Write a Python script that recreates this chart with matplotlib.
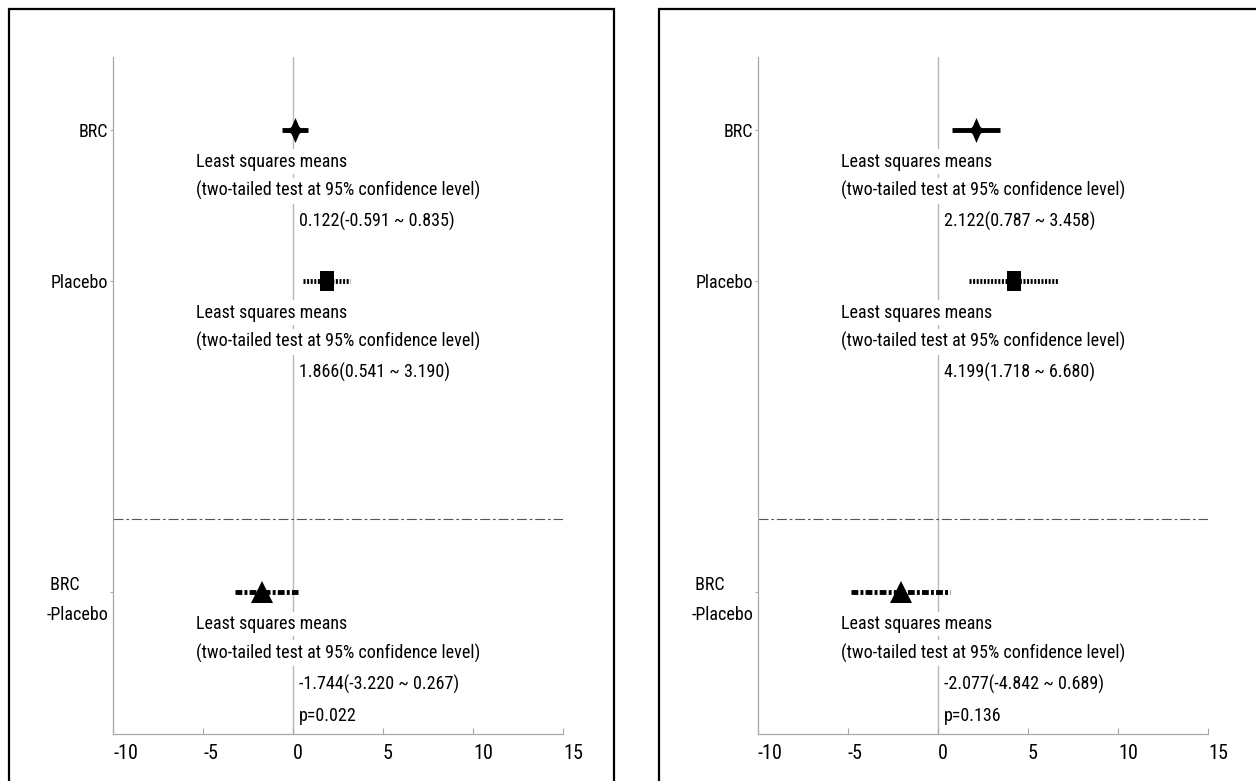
import matplotlib
matplotlib.use("Agg")
import matplotlib.pyplot as plt
from matplotlib import font_manager
from matplotlib.patches import Rectangle
from matplotlib.path import Path
from matplotlib.transforms import ScaledTranslation

# ---------------- data ----------------
groups = ["BRC", "Placebo", " BRC\n-Placebo"]

left_est = [0.122, 1.866, -1.744]
left_lo = [-0.591, 0.541, -3.220]
left_hi = [0.835, 3.190, 0.267]
left_p = "0.022"

right_est = [2.122, 4.199, -2.077]
right_lo = [0.787, 1.718, -4.842]
right_hi = [3.458, 6.680, 0.689]
right_p = "0.136"

xticks = [-10, -5, 0, 5, 10, 15]
note_1 = "Least squares means"
note_2 = "(two-tailed test at 95% confidence level)"

# ---------------- font ----------------
available = {f.name for f in font_manager.fontManager.ttflist}
family = "DejaVu Sans"
for cand in ["Liberation Sans Narrow", "Arial Narrow", "Roboto Condensed",
             "DejaVu Sans Condensed", "Liberation Sans", "Arial"]:
    if cand in available:
        family = cand
        break
plt.rcParams["font.family"] = [family, "DejaVu Sans"]
plt.rcParams["axes.unicode_minus"] = False
FS = 13
FS_TICK = 14.5

# ---------------- layout ----------------
W, H = 1256, 781
fig = plt.figure(figsize=(W / 100, H / 100), dpi=100)

ypos = [0.0, 1.0, 3.06]
y_sep = 2.58
ylim = (4.0, -0.48)

diamond = Path([(0, 1), (0.3, 0.3), (0.66, 0), (0.3, -0.3), (0, -1),
                (-0.3, -0.3), (-0.66, 0), (-0.3, 0.3), (0, 1)])
rect = [(-0.36, -0.5), (0.36, -0.5), (0.36, 0.5), (-0.36, 0.5), (-0.36, -0.5)]
styles = [
    dict(ls="-", marker=diamond, ms=18),
    dict(ls=(0, (0.42, 0.32)), marker=rect, ms=15),
    dict(ls=(0, (1.4, 0.45, 0.6, 0.45)), marker="^", ms=16),
]

GRAY = "#a8a8a8"

# frames
fig.patches.append(Rectangle((9 / W, -0.02), (614 - 9) / W, 1 - 9 / H + 0.02,
                             transform=fig.transFigure, fill=False, ec="black",
                             lw=1.6, clip_on=False))
fig.patches.append(Rectangle((659 / W, -0.02), 0.5, 1 - 9 / H + 0.02,
                             transform=fig.transFigure, fill=False, ec="black",
                             lw=1.6, clip_on=False))


def panel(left_px, top_px, est, lo, hi, p):
    ax = fig.add_axes([left_px / W, (H - 734) / H, 450 / W, (734 - top_px) / H])
    ax.set_xlim(-10, 15)
    ax.set_ylim(*ylim)
    for s in ["top", "right"]:
        ax.spines[s].set_visible(False)
    for s in ["left", "bottom"]:
        ax.spines[s].set_color(GRAY)
        ax.spines[s].set_linewidth(0.9)
    ax.set_xticks(xticks)
    ax.set_xticklabels([str(t) for t in xticks], fontsize=FS_TICK, ha="left")
    shift = ScaledTranslation(2.5 / 72, 0, fig.dpi_scale_trans)
    for lbl in ax.get_xticklabels():
        lbl.set_transform(lbl.get_transform() + shift)
    ax.set_yticks(ypos)
    ax.set_yticklabels(groups, fontsize=FS, multialignment="left", linespacing=1.85)
    ax.tick_params(axis="x", direction="in", length=4, color=GRAY, pad=7)
    ax.tick_params(axis="y", direction="out", length=2.5, color=GRAY, pad=1)
    ax.set_facecolor("none")

    ax.axvline(0, color="#b8b8b8", lw=1.0, zorder=1)
    ax.axhline(y_sep, color="#555555", lw=0.8, ls=(0, (9, 2.5, 2.5, 2.5)), zorder=2)

    for i in range(3):
        st = styles[i]
        ax.plot([lo[i], hi[i]], [ypos[i], ypos[i]], color="black", lw=3.5,
                ls=st["ls"], solid_capstyle="butt", dash_capstyle="butt", zorder=3)
        ax.plot([est[i]], [ypos[i]], marker=st["marker"], ms=st["ms"],
                color="black", mec="black", mew=0, ls="none", zorder=4)
        for off, txt in [(32, note_1), (61, note_2)]:
            ax.annotate(txt, xy=(-5.4, ypos[i]), xytext=(0, -off),
                        textcoords="offset pixels", ha="left", va="center",
                        fontsize=FS, zorder=5,
                        bbox=dict(fc="white", ec="none", pad=2.5))
        val = f"{est[i]:.3f}({lo[i]:.3f} ~ {hi[i]:.3f})"
        ax.annotate(val, xy=(0, ypos[i]), xytext=(6, -92),
                    textcoords="offset pixels", ha="left", va="center",
                    fontsize=FS, zorder=5)
    ax.annotate(f"p={p}", xy=(0, ypos[2]), xytext=(6, -124),
                textcoords="offset pixels", ha="left", va="center",
                fontsize=FS, zorder=5)
    return ax


panel(113, 57, left_est, left_lo, left_hi, left_p)
panel(758, 57, right_est, right_lo, right_hi, right_p)

fig.savefig("out.png", dpi=100, facecolor="white")
